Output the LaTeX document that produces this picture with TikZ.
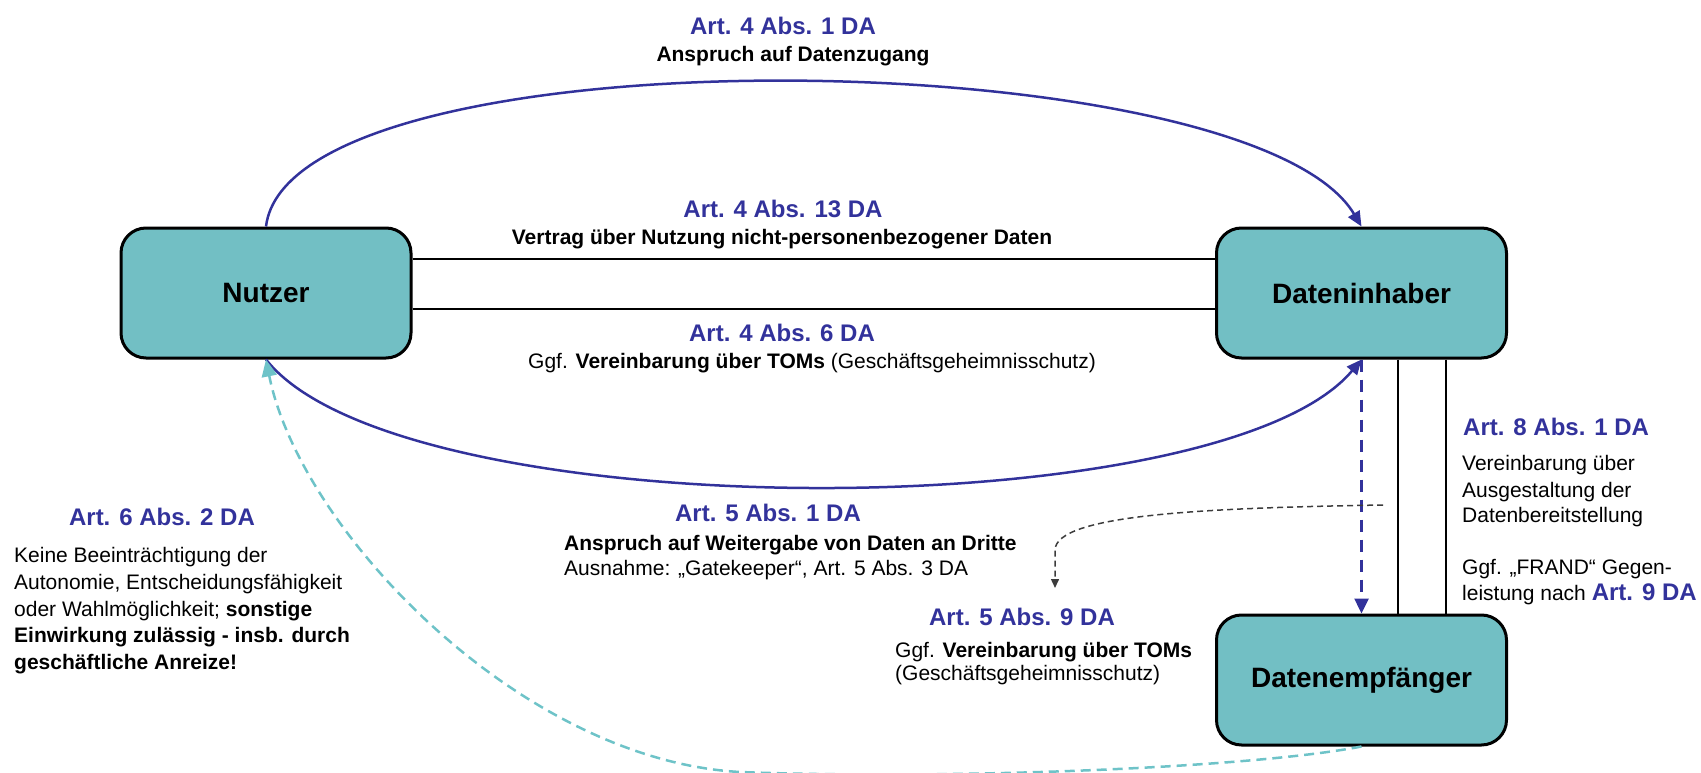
\documentclass[tikz,border=0pt]{standalone}
\usepackage{fontspec}
\setmainfont{Liberation Sans}
\usetikzlibrary{arrows.meta}
\definecolor{dablue}{RGB}{50,50,155}
\definecolor{boxfill}{RGB}{114,191,196}
\definecolor{cyandash}{RGB}{110,195,200}
\definecolor{graydash}{RGB}{60,60,60}
\begin{document}
\begin{tikzpicture}[x=1pt,y=-1pt,
  actor/.style={draw=black, line width=3pt, fill=boxfill, rounded corners=25pt,
    minimum width=290pt, minimum height=130pt, inner sep=0pt,
    font=\fontsize{28}{34}\selectfont\bfseries},
  head/.style={anchor=base, inner sep=0pt, text=dablue, font=\fontsize{24}{29}\selectfont\bfseries},
  headl/.style={head, anchor=base west},
  body/.style={anchor=base, inner sep=0pt, font=\fontsize{21}{26}\selectfont},
  bodyb/.style={body, font=\fontsize{21}{26}\selectfont\bfseries},
  bodyl/.style={body, anchor=base west},
  bluearc/.style={draw=dablue, line width=2.5pt, -{Triangle[length=15pt,width=13pt]}},
  bluedash/.style={draw=dablue, line width=2.5pt, dash pattern=on 12pt off 8pt, -{Triangle[length=15pt,width=14pt]}},
  cyandashed/.style={draw=cyandash, line width=2.5pt, dash pattern=on 10pt off 6pt, -{Triangle[length=17pt,width=15pt]}},
  graydashed/.style={draw=graydash, line width=1.5pt, dash pattern=on 6pt off 4pt, -{Triangle[length=9pt,width=8pt]}},
  plain/.style={draw=black, line width=2.5pt}
]
\useasboundingbox (0,0) rectangle (1701,773);

% actors
\node[actor] (nu) at (266,293) {Nutzer};
\node[actor] (di) at (1361.5,293) {Dateninhaber};
\node[actor] (de) at (1361.5,680) {Datenempfänger};

% helper coordinates
\coordinate (h1) at (0,259);
\coordinate (h2) at (0,309);
\coordinate (v1) at (1398,0);
\coordinate (v2) at (1446,0);
\coordinate (cm) at (740,772);
\coordinate (gs) at (1383,505);
\coordinate (ge) at (1055,588);

% plain contract lines
\draw[plain] (nu.east |- h1) -- (di.west |- h1);
\draw[plain] (nu.east |- h2) -- (di.west |- h2);
\draw[plain] (di.south -| v1) -- (de.north -| v1);
\draw[plain] (di.south -| v2) -- (de.north -| v2);

% blue arcs
\draw[bluearc] (nu.north) .. controls (290,28) and (1250,40) .. (di.north);
\draw[bluearc] (nu.south) .. controls (400,529) and (1220,529) .. (di.south);
\draw[bluedash] (di.south) -- (de.north);

% gray dashed hint
\draw[graydashed] (gs) .. controls (1200,508) and (1056,515) .. (1055,550) -- (ge);

% cyan dashed
\draw[cyandashed] (de.south) .. controls (1250,768) and (950,780) .. (cm)
  .. controls (520,760) and (300,530) .. (nu.south);

% texts top
\node[head] (t1) at (783,34.5) {Art. 4 Abs. 1 DA};
\node[bodyb] (t2) at (793,62) {Anspruch auf Datenzugang};
\node[head] (t3) at (783,217) {Art. 4 Abs. 13 DA};
\node[bodyb] (t4) at (782,244) {Vertrag über Nutzung nicht-personenbezogener Daten};
\node[head] (t5) at (782,341) {Art. 4 Abs. 6 DA};
\node[body] (t6) at (812,368) {Ggf. \textbf{Vereinbarung über TOMs} (Geschäftsgeheimnisschutz)};

% Art 5 Abs 1
\node[head] (t7) at (768,521) {Art. 5 Abs. 1 DA};
\node[bodyb, anchor=base west] (t8) at (564,550) {Anspruch auf Weitergabe von Daten an Dritte};
\node[bodyl] (t9) at (564,575) {Ausnahme: „Gatekeeper“, Art. 5 Abs. 3 DA};

% Art 5 Abs 9
\node[head] (t10) at (1022,625) {Art. 5 Abs. 9 DA};
\node[bodyl] (t11) at (895,657) {Ggf. \textbf{Vereinbarung über TOMs}};
\node[bodyl] (t12) at (895,680) {(Geschäftsgeheimnisschutz)};

% Art 6 Abs 2
\node[head] (t13) at (162,525) {Art. 6 Abs. 2 DA};
\node[bodyl] (t14) at (14,562) {Keine Beeinträchtigung der};
\node[bodyl] (t15) at (14,589) {Autonomie, Entscheidungsfähigkeit};
\node[bodyl] (t16) at (14,616) {oder Wahlmöglichkeit; \textbf{sonstige}};
\node[bodyl] (t17) at (14,642) {\textbf{Einwirkung zulässig - insb. durch}};
\node[bodyl] (t18) at (14,669) {\textbf{geschäftliche Anreize!}};

% Art 8 Abs 1
\node[headl] (t19) at (1463,435) {Art. 8 Abs. 1 DA};
\node[bodyl] (t20) at (1462,470) {Vereinbarung über};
\node[bodyl] (t21) at (1462,497) {Ausgestaltung der};
\node[bodyl] (t22) at (1462,522) {Datenbereitstellung};
\node[bodyl] (t23) at (1462,574) {Ggf. „FRAND“ Gegen-};
\node[bodyl] (t24) at (1462,600) {leistung nach {\color{dablue}\fontsize{24}{29}\selectfont\bfseries Art. 9 DA}};
\end{tikzpicture}
\end{document}
